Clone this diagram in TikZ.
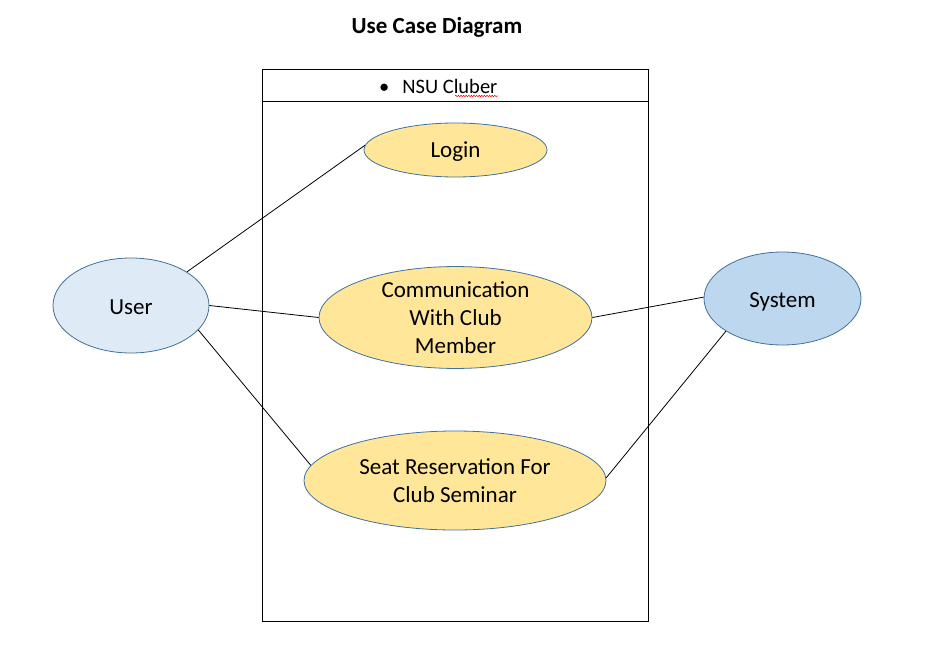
\documentclass[tikz,border=0pt]{standalone}
\usepackage{fontspec}
\setmainfont{Carlito}
\usetikzlibrary{shapes.geometric,decorations.pathmorphing}
\definecolor{edgeblue}{HTML}{41719C}
\definecolor{userfill}{HTML}{DEEBF7}
\definecolor{sysfill}{HTML}{BDD7EE}
\definecolor{casefill}{HTML}{FFE699}
\newcommand{\lowtext}[2][7pt]{\raisebox{-#1}[0pt][0pt]{#2}}
\tikzset{
  uc/.style={ellipse, draw=edgeblue, line width=0.8pt, fill=casefill, inner sep=0pt,
    align=center, font=\fontsize{23}{28}\selectfont},
  actor/.style={ellipse, draw=edgeblue, line width=0.8pt, inner sep=0pt,
    align=center, font=\fontsize{23}{28}\selectfont},
  link/.style={draw=black, line width=0.8pt},
}
\begin{document}
\begin{tikzpicture}[x=1pt,y=-1pt]
\useasboundingbox (0,0) rectangle (945,666);
\fill[white] (0,0) rectangle (945,666);
\node[font=\fontsize{23}{26}\bfseries] (title) at (437,27) {Use Case Diagram};
\draw[black, line width=0.8pt] (262,69) rectangle (648,621);
\draw[black, line width=0.8pt] (262,101) -- (648,101);
\node[font=\fontsize{20.5}{24}\selectfont, anchor=base west, inner sep=0pt] (hdr) at (379,93.5) {\textbullet\hspace{13pt}NSU Cluber};
\draw[red, line width=0.5pt, decorate, decoration={snake, amplitude=0.8pt, segment length=2.6pt}] (455,96) -- (498,96);
\node[uc, minimum width=183pt, minimum height=54pt] (login) at (455.5,150) {\lowtext{Login}};
\node[uc, minimum width=273pt, minimum height=93pt] (comm) at (455.5,317.5) {Communication\\With Club\\Member};
\node[uc, minimum width=302pt, minimum height=99pt] (seat) at (455,480.5) {Seat Reservation For\\Club Seminar};
\node[actor, fill=userfill, minimum width=156pt, minimum height=95pt] (user) at (131,305.5) {\lowtext[8.5pt]{User}};
\node[actor, fill=sysfill, minimum width=157pt, minimum height=93pt] (sys) at (782.5,298.5) {\lowtext[8.5pt]{System}};
\draw[link] (user.31.6) -- (login.177.4);
\draw[link] (user.east) -- (comm.west);
\draw[link] (user.-20) -- (seat.174.9);
\draw[link] (comm.east) -- (sys.179);
\draw[link] (seat.1) -- (sys.-150);
\end{tikzpicture}
\end{document}
